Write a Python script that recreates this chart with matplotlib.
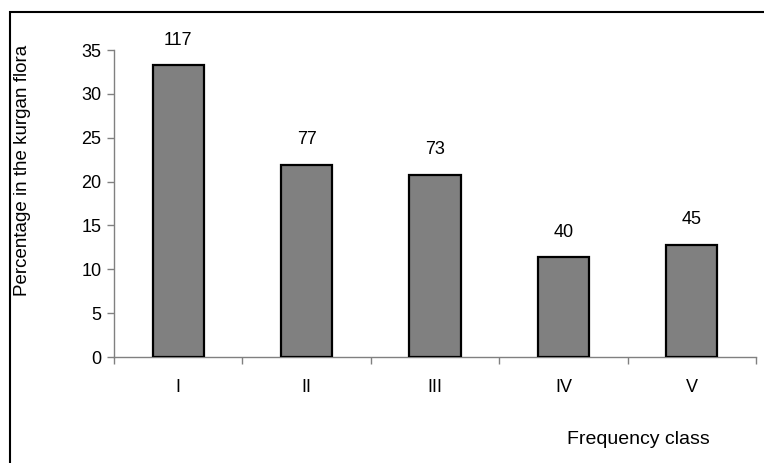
import matplotlib.pyplot as plt
import numpy as np
from matplotlib.patches import Rectangle

plt.rcParams['font.family'] = ['Liberation Sans', 'DejaVu Sans']

classes = ['I', 'II', 'III', 'IV', 'V']
species_counts = [117, 77, 73, 40, 45]

counts = np.array(species_counts)
percent = counts / counts.sum() * 100

W, H = 764, 463
fig = plt.figure(figsize=(W / 100, H / 100), dpi=100)

# outer chart frame (runs off the right and bottom edges)
fig.patches.append(Rectangle((10 / W, -0.2), 2, 1.2 - 12 / H, transform=fig.transFigure,
                             fill=False, edgecolor='black', linewidth=1.5))

ax = fig.add_axes([114 / W, 1 - 357 / H, (756 - 114) / W, (357 - 50) / H])

x = np.arange(len(classes))
ax.bar(x, percent, width=0.4, color='#808080', edgecolor='black', linewidth=1.6, zorder=3)

for xi, p, c in zip(x, percent, species_counts):
    ax.annotate(str(c), (xi, p), xytext=(0, 12), textcoords='offset points',
                ha='center', va='bottom', fontsize=13)

ax.set_xlim(-0.5, len(classes) - 0.5)
ax.set_ylim(0, 35)
ax.set_yticks(np.arange(0, 36, 5))
ax.tick_params(axis='y', direction='out', length=5, width=1, color='#808080',
               labelsize=13, pad=4)

# category ticks sit between the bars
ax.set_xticks(np.arange(-0.5, len(classes), 1.0))
ax.set_xticklabels([])
ax.set_xticks(x, minor=True)
ax.set_xticklabels(classes, minor=True, fontsize=13)
ax.tick_params(axis='x', which='major', direction='out', length=5, width=1, color='#808080')
ax.tick_params(axis='x', which='minor', length=0, pad=16)

for side in ['top', 'right']:
    ax.spines[side].set_visible(False)
for side in ['left', 'bottom']:
    ax.spines[side].set_color('#808080')
    ax.spines[side].set_linewidth(1)

fig.text(23 / W, 1 - 170 / H, 'Percentage in the kurgan flora', rotation=90,
         ha='center', va='center', fontsize=13.5)
fig.text(638 / W, 1 - 440 / H, 'Frequency class', ha='center', va='center', fontsize=14)

fig.savefig('out.png', dpi=100)
